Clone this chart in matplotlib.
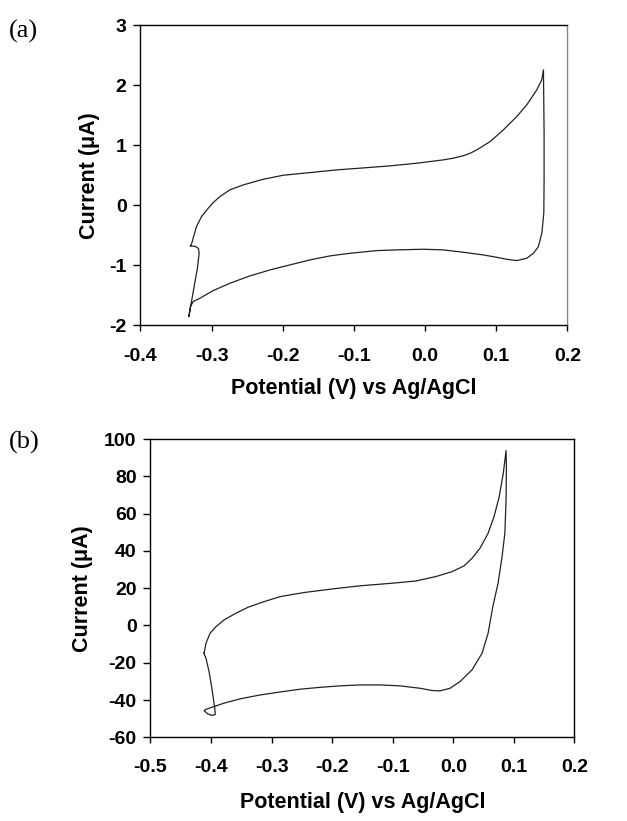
import numpy as np
import matplotlib
matplotlib.use("Agg")
import matplotlib.pyplot as plt
from matplotlib.ticker import FormatStrFormatter, FixedLocator

plt.rcParams['font.family'] = ['Liberation Sans', 'DejaVu Sans']
plt.rcParams['axes.unicode_minus'] = False

# (a) voltammogram, traced as one closed path
pot_a = [-0.3297, -0.3275, -0.326, -0.3235, -0.3213, -0.3142, -0.3048, -0.2978,
         -0.2884, -0.2744, -0.2556, -0.2275, -0.1994, -0.1619, -0.1244, -0.0869,
         -0.0494, -0.0119, 0.0256, 0.040, 0.0538, 0.064, 0.0725, 0.0913, 0.110,
         0.1288, 0.1428, 0.1569, 0.1639, 0.1663,
         0.1672, 0.1672, 0.1668, 0.164, 0.1592, 0.1522, 0.1428, 0.1288, 0.1147,
         0.1006, 0.0819, 0.0538, 0.0256, -0.0025, -0.040, -0.0681, -0.1056,
         -0.1337, -0.1619, -0.190, -0.2181, -0.2463, -0.2744, -0.2978, -0.3166,
         -0.326, -0.3297, -0.332,
         -0.3260, -0.3200, -0.3175, -0.3185, -0.3230, -0.3297]
cur_a = [-0.678, -0.62, -0.55, -0.45, -0.356, -0.189, -0.05, 0.044,
         0.144, 0.256, 0.339, 0.433, 0.50, 0.544, 0.589, 0.622,
         0.656, 0.70, 0.756, 0.785, 0.825, 0.870, 0.922, 1.061, 1.256,
         1.478, 1.672, 1.922, 2.089, 2.256,
         1.20, 0.422, -0.133, -0.467, -0.689, -0.80, -0.883, -0.922, -0.90,
         -0.867, -0.828, -0.783, -0.744, -0.733, -0.744, -0.756, -0.80,
         -0.844, -0.911, -0.994, -1.078, -1.178, -1.30, -1.422, -1.55,
         -1.606, -1.689, -1.856,
         -1.45, -1.05, -0.80, -0.72, -0.685, -0.678]

# (b) voltammogram, traced as one closed path
pot_b = [-0.4115, -0.4082, -0.4016, -0.3917, -0.3785, -0.3587, -0.3389, -0.3125,
         -0.286, -0.2464, -0.2002, -0.154, -0.1011, -0.0615, -0.0285, -0.0021,
         0.0177, 0.0309, 0.0441, 0.0574, 0.0673, 0.0758, 0.0825, 0.0871,
         0.0877, 0.0871, 0.0851, 0.0805, 0.0739, 0.0653, 0.0574, 0.0475, 0.0309,
         0.0111, -0.0054, -0.0219, -0.0351, -0.0549, -0.0879, -0.121, -0.154,
         -0.187, -0.220, -0.253, -0.286, -0.3191, -0.3521, -0.3785, -0.395,
         -0.4082, -0.4115,
         -0.405, -0.398, -0.393, -0.394, -0.398, -0.403, -0.408, -0.4115]
cur_b = [-14.9, -9.5, -4.2, -0.6, 3.0, 6.6, 9.8, 12.8,
         15.5, 17.7, 19.6, 21.3, 22.7, 23.9, 26.3, 28.9,
         32.0, 36.1, 41.5, 49.5, 58.5, 69.2, 81.7, 93.9,
         85.3, 67.4, 49.5, 37.0, 22.7, 10.2, -4.2, -14.9, -23.8,
         -30.1, -33.7, -35.1, -34.9, -33.7, -32.4, -31.9, -31.9,
         -32.4, -33.2, -34.2, -35.7, -37.3, -39.4, -41.7, -43.5,
         -45.0, -45.7,
         -47.5, -48.3, -47.8, -44.0, -35.0, -25.0, -18.0, -14.9]

xticks_a = [-0.4, -0.3, -0.2, -0.1, 0.0, 0.1, 0.2]
yticks_a = [-2, -1, 0, 1, 2, 3]
xticks_b = [-0.5, -0.4, -0.3, -0.2, -0.1, 0.0, 0.1, 0.2]
yticks_b = [-60, -40, -20, 0, 20, 40, 60, 80, 100]

xlabel = 'Potential (V) vs Ag/AgCl'
ylabel = 'Current (\u03bcA)'

fig = plt.figure(figsize=(6.27, 8.21), dpi=100)
ax_a = fig.add_axes([0.2240, 0.6038, 0.6810, 0.3655])
ax_b = fig.add_axes([0.2399, 0.1020, 0.6763, 0.3630])


def style(ax, xt, yt, ylab_x, xlab_y):
    ax.set_xlim(xt[0], xt[-1])
    ax.set_ylim(yt[0], yt[-1])
    ax.xaxis.set_major_locator(FixedLocator(xt))
    ax.yaxis.set_major_locator(FixedLocator(yt))
    ax.xaxis.set_major_formatter(FormatStrFormatter('%.1f'))
    ax.yaxis.set_major_formatter(FormatStrFormatter('%d'))
    ax.tick_params(axis='x', direction='out', length=4, width=1, pad=12,
                   labelsize=14)
    ax.tick_params(axis='y', direction='out', length=5, width=1, pad=5,
                   labelsize=14)
    for lab in ax.get_xticklabels() + ax.get_yticklabels():
        lab.set_fontweight('bold')
    for sp in ax.spines.values():
        sp.set_linewidth(1.0)
        sp.set_color('black')
    ax.set_xlabel(xlabel, fontsize=15.5, fontweight='bold')
    ax.set_ylabel(ylabel, fontsize=15.5, fontweight='bold')
    ax.xaxis.set_label_coords(0.5, xlab_y)
    ax.yaxis.set_label_coords(ylab_x, 0.5)


ax_a.plot(pot_a, cur_a, color='#222222', lw=0.9)
style(ax_a, xticks_a, yticks_a, -0.095, -0.175)
ax_a.spines['right'].set_color('#888888')

ax_b.plot(pot_b, cur_b, color='#222222', lw=0.9)
style(ax_b, xticks_b, yticks_b, -0.135, -0.185)

fig.text(0.014, 0.962, '(a)', family='Liberation Serif', fontsize=19,
         va='center', ha='left')
fig.text(0.014, 0.461, '(b)', family='Liberation Serif', fontsize=19,
         va='center', ha='left')

fig.savefig('out.png', dpi=100)
